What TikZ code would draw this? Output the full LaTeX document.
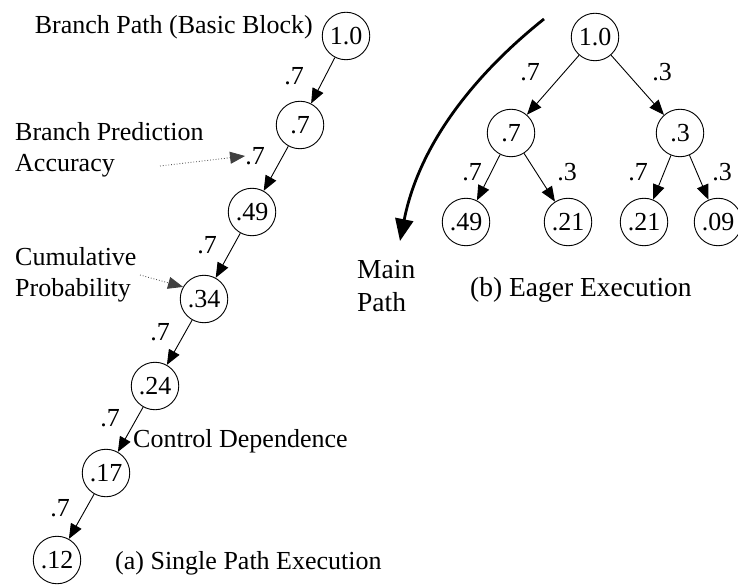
\documentclass[tikz,border=0pt]{standalone}
\usepackage{fontspec}
\setmainfont{Liberation Serif}
\usetikzlibrary{arrows.meta}
\begin{document}
\begin{tikzpicture}[x=1pt,y=-1pt,
  prob/.style={draw, circle, line width=0.9pt, minimum size=47.5pt, inner sep=0pt,
    font=\fontsize{26}{28}\selectfont},
  txt/.style={font=\fontsize{26}{31}\selectfont, inner sep=0pt, align=left},
  caption/.style={font=\fontsize{27.5}{33}\selectfont, inner sep=0pt, align=left},
  lbl/.style={font=\fontsize{26}{28}\selectfont, inner sep=0pt},
  edgearrow/.style={line width=0.9pt, -{Triangle[length=15pt,width=12pt]}},
  pointer/.style={line width=0.8pt, dotted, draw=black!75,
    -{Triangle[length=15pt,width=12pt]}},
  mainpath/.style={line width=2.8pt, -{Triangle[length=22pt,width=18pt]}}]
\useasboundingbox (0,0) rectangle (738,585);

% (a) single path: one chain of basic blocks
\node[prob] (a0) at (346,36)  {1.0};
\node[prob] (a1) at (300,125) {.7};
\node[prob] (a2) at (252,212) {.49};
\node[prob] (a3) at (204,299) {.34};
\node[prob] (a4) at (155,386) {.24};
\node[prob] (a5) at (106,473) {.17};
\node[prob] (a6) at (57,560)  {.12};

\foreach \u/\v in {a0/a1,a1/a2,a2/a3,a3/a4,a4/a5,a5/a6}
  \draw[edgearrow] (\u) -- (\v);

\node[lbl] (pa1) at (294,76)  {.7};
\node[lbl] (pa2) at (255,156) {.7};
\node[lbl] (pa3) at (207,245) {.7};
\node[lbl] (pa4) at (160,332) {.7};
\node[lbl] (pa5) at (110,418) {.7};
\node[lbl] (pa6) at (60,508)  {.7};

\node[txt, anchor=east] (tbb) at (313,27) {Branch Path (Basic Block)};
\node[txt, anchor=west] (tbp) at (15,150) {Branch Prediction\\Accuracy};
\node[txt, anchor=west] (tcp) at (15,275) {Cumulative\\Probability};
\node[txt, anchor=west] (tcd) at (133,441) {Control Dependence};
\node[txt, anchor=west] (tsp) at (115,563) {(a) Single Path Execution};

\coordinate (bpfrom) at (160,166);
\coordinate (cpfrom) at (140,275);
\draw[pointer] (bpfrom) -- (pa2.west);
\draw[pointer] (cpfrom) -- (a3.150);

% (b) eager execution: both outcomes of every branch
\node[prob] (b0) at (595,37)  {1.0};
\node[prob] (b1) at (511,133) {.7};
\node[prob] (b2) at (680,133) {.3};
\node[prob] (b3) at (466,222) {.49};
\node[prob] (b4) at (568,222) {.21};
\node[prob] (b5) at (644,222) {.21};
\node[prob] (b6) at (718,222) {.09};

\foreach \u/\v in {b0/b1,b0/b2,b1/b3,b1/b4,b2/b5,b2/b6}
  \draw[edgearrow] (\u) -- (\v);

\node[lbl] (pb1) at (530,72)  {.7};
\node[lbl] (pb2) at (662,72)  {.3};
\node[lbl] (pb3) at (472,172) {.7};
\node[lbl] (pb4) at (567,172) {.3};
\node[lbl] (pb5) at (638,172) {.7};
\node[lbl] (pb6) at (722,172) {.3};

\node[caption, anchor=west] (tmp) at (357,286) {Main\\Path};
\node[caption, anchor=west] (tee) at (470,290) {(b) Eager Execution};

\coordinate (mpstart) at (544,19);
\coordinate (mpend) at (400,241);
\draw[mainpath] (mpstart) .. controls (480,70) and (420,140) .. (mpend);
\end{tikzpicture}
\end{document}
